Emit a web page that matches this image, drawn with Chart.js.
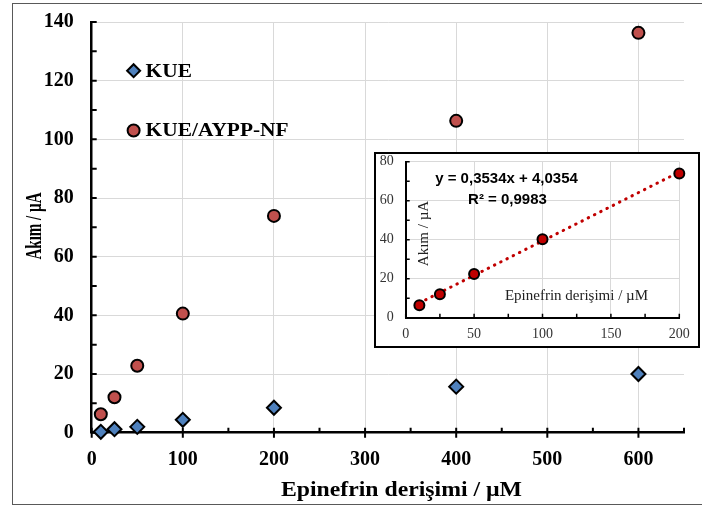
<!DOCTYPE html>
<html>
<head>
<meta charset="utf-8">
<script src="https://cdn.jsdelivr.net/npm/chart.js@4.4.0/dist/chart.umd.min.js"></script>
<style>
html, body { margin: 0; padding: 0; overflow: hidden; background: #fff; }
#frame { position: absolute; left: 12px; top: 3px; width: 700px; height: 500px; border: 1.5px solid #595959; }
#main { position: absolute; left: 0; top: 0; }
#insetBox { position: absolute; left: 374px; top: 152px; width: 322px; height: 192px; border: 2px solid #000; background: #fff; }
#inset { position: absolute; left: 0; top: 0; }
</style>
</head>
<body>
<div id="frame"></div>
<canvas id="main" width="702" height="508"></canvas>
<div id="insetBox"><canvas id="inset" width="322" height="192"></canvas></div>
<script>
// ===== Data =====
const concMain = [10, 25, 50, 100, 200, 400, 600];           // µM
const currentKUE = [0.3, 1.2, 2.0, 4.4, 8.5, 15.7, 20.0];   // µA
const currentKUEAYPP = [6.3, 12.1, 22.8, 40.6, 73.9, 106.3, 136.3];

const concInset = [10, 25, 50, 100, 200];
const currentInset = [6.4, 12.0, 22.4, 40.2, 74.0];
const fitSlope = 0.3534;
const fitIntercept = 4.0354;

const mainXTicks = [0, 100, 200, 300, 400, 500, 600];
const mainYTicks = [0, 20, 40, 60, 80, 100, 120, 140];
const insetXTicks = [0, 50, 100, 150, 200];
const insetYTicks = [0, 20, 40, 60, 80];

const SERIF = "'Liberation Serif', 'Times New Roman', serif";
const SANS = "'Liberation Sans', Arial, sans-serif";

const toPoints = (xs, ys) => xs.map((x, i) => ({ x: x, y: ys[i] }));
const fixTicks = (vals) => (scale) => { scale.ticks = vals.map(v => ({ value: v })); };

// trendline end points from the fitted equation shown in the inset
const fitX = [concInset[0], concInset[concInset.length - 1]];
const fitY = fitX.map(x => fitSlope * x + fitIntercept);

// text squeezed/stretched to a given width (the original figure is not drawn at 1:1 aspect)
function fitText(ctx, text, x, y, width, rotate) {
    const w = ctx.measureText(text).width;
    ctx.save();
    ctx.translate(x, y);
    if (rotate) ctx.rotate(-Math.PI / 2);
    ctx.scale(width / w, 1);
    ctx.fillText(text, 0, 0);
    ctx.restore();
}

// ===== small tick marks along both axes (major + minor) =====
function tickMarksPlugin(cfg) {
    return {
        id: "tickMarks",
        beforeDatasetsDraw(chart) {
            const { ctx, scales: { x, y } } = chart;
            const x0 = x.getPixelForValue(x.min);
            const y0 = y.getPixelForValue(y.min);
            ctx.save();
            ctx.strokeStyle = "#000";
            ctx.lineWidth = cfg.width;
            ctx.beginPath();
            for (let v = x.min; v <= x.max + 0.001; v += cfg.xStep) {
                const px = x.getPixelForValue(v);
                const major = v % cfg.xMajor === 0 && v < x.max;
                ctx.moveTo(px, y0 - cfg.len);
                ctx.lineTo(px, major ? y0 + cfg.down : y0);
            }
            for (let v = y.min; v <= y.max + 0.001; v += cfg.yStep) {
                const py = y.getPixelForValue(v);
                ctx.moveTo(x0, py);
                ctx.lineTo(x0 + cfg.len, py);
            }
            ctx.stroke();
            ctx.restore();
        }
    };
}

// ===== axis titles + in-plot legend of the main chart =====
const mainDecor = {
    id: "mainDecor",
    afterDraw(chart) {
        const { ctx, scales: { x, y } } = chart;
        ctx.save();
        ctx.fillStyle = "#000";
        ctx.textAlign = "center";
        ctx.textBaseline = "alphabetic";
        ctx.font = "bold 21px " + SERIF;
        fitText(ctx, "Epinefrin derişimi / µM", 401.5, 496, 241, false);
        ctx.textBaseline = "middle";
        ctx.font = "bold 23px " + SERIF;
        fitText(ctx, "Akım / µA", 35, 226, 67, true);

        const items = [
            { label: "KUE", at: [46, 123.4], style: "diamond", color: "#4f81bd" },
            { label: "KUE/AYPP-NF", at: [46, 103], style: "circle", color: "#c0504d" }
        ];
        ctx.font = "bold 19px " + SERIF;
        const stretch = 143 / ctx.measureText("KUE/AYPP-NF").width;
        items.forEach(it => {
            const px = x.getPixelForValue(it.at[0]);
            const py = y.getPixelForValue(it.at[1]);
            ctx.beginPath();
            if (it.style === "diamond") {
                ctx.moveTo(px, py - 6.5); ctx.lineTo(px + 6.5, py);
                ctx.lineTo(px, py + 6.5); ctx.lineTo(px - 6.5, py);
                ctx.closePath();
            } else {
                ctx.arc(px, py, 6, 0, Math.PI * 2);
            }
            ctx.fillStyle = it.color;
            ctx.fill();
            ctx.lineWidth = 2;
            ctx.strokeStyle = "#000";
            ctx.stroke();
            ctx.fillStyle = "#000";
            ctx.textAlign = "left";
            ctx.textBaseline = "middle";
            ctx.save();
            ctx.translate(px + 12, py + 1);
            ctx.scale(stretch, 1);
            ctx.fillText(it.label, 0, 0);
            ctx.restore();
        });
        ctx.restore();
    }
};

// ===== texts inside the inset =====
const insetTexts = {
    id: "insetTexts",
    afterDatasetsDraw(chart) {
        const { ctx } = chart;
        ctx.save();
        ctx.fillStyle = "#000";
        ctx.textAlign = "center";
        ctx.textBaseline = "middle";
        ctx.font = "bold 15px " + SANS;
        ctx.fillText("y = 0,3534x + 4,0354", 130.5, 25);
        ctx.fillText("R² = 0,9983", 131.5, 45.5);
        ctx.font = "15px " + SERIF;
        ctx.fillStyle = "#222";
        ctx.fillText("Epinefrin derişimi / µM", 200.5, 142.5);
        ctx.translate(48, 79.5);
        ctx.rotate(-Math.PI / 2);
        ctx.fillText("Akım / µA", 0, 0);
        ctx.restore();
    }
};

// ===== Main chart =====
new Chart(document.getElementById("main"), {
    type: "scatter",
    data: {
        datasets: [
            {
                label: "KUE/AYPP-NF",
                data: toPoints(concMain, currentKUEAYPP),
                pointStyle: "circle",
                pointRadius: 6,
                backgroundColor: "#c0504d",
                borderColor: "#000",
                borderWidth: 2,
                clip: false
            },
            {
                label: "KUE",
                data: toPoints(concMain, currentKUE),
                pointStyle: "rectRot",
                pointRadius: 7,
                backgroundColor: "#4f81bd",
                borderColor: "#000",
                borderWidth: 2,
                clip: false
            }
        ]
    },
    options: {
        responsive: false,
        animation: false,
        layout: { padding: { left: 12, top: 22, right: 18, bottom: 5 } },
        plugins: { legend: { display: false }, tooltip: { enabled: false } },
        scales: {
            x: {
                type: "linear",
                min: 0,
                max: 650,
                afterBuildTicks: fixTicks(mainXTicks),
                afterFit: (s) => { s.height = 70.3; },
                grid: { color: "#d9d9d9", lineWidth: 1, drawTicks: false },
                border: { color: "#000", width: 2.5 },
                ticks: { color: "#000", padding: 15, font: { family: SERIF, size: 20, weight: "bold" } }
            },
            y: {
                type: "linear",
                min: 0,
                max: 140,
                afterBuildTicks: fixTicks(mainYTicks),
                afterFit: (s) => { s.width = 79.7; },
                grid: { color: "#d9d9d9", lineWidth: 1, drawTicks: true, tickLength: 15, tickColor: "rgba(0,0,0,0)" },
                border: { color: "#000", width: 2.5 },
                ticks: { color: "#000", padding: 3, font: { family: SERIF, size: 20, weight: "bold" } }
            }
        }
    },
    plugins: [tickMarksPlugin({ xStep: 50, xMajor: 100, yStep: 10, len: 5, down: 5, width: 2 }), mainDecor]
});

// ===== Inset: linear range with fitted line =====
new Chart(document.getElementById("inset"), {
    type: "scatter",
    data: {
        datasets: [
            {
                label: "KUE/AYPP-NF",
                data: toPoints(concInset, currentInset),
                pointRadius: 5,
                backgroundColor: "#c00000",
                borderColor: "#000",
                borderWidth: 2,
                clip: false
            },
            {
                label: "fit",
                data: toPoints(fitX, fitY),
                showLine: true,
                pointRadius: 0,
                borderColor: "#c00000",
                borderWidth: 3,
                borderDash: [0.5, 6.5],
                borderCapStyle: "round",
                clip: false
            }
        ]
    },
    options: {
        responsive: false,
        animation: false,
        layout: { padding: { left: 0, top: 7.7, right: 18.7, bottom: 0 } },
        plugins: { legend: { display: false }, tooltip: { enabled: false } },
        scales: {
            x: {
                type: "linear",
                min: 0,
                max: 200,
                afterBuildTicks: fixTicks(insetXTicks),
                afterFit: (s) => { s.height = 28.3; },
                grid: { color: "#d9d9d9", lineWidth: 1, drawTicks: false },
                border: { color: "#000", width: 2 },
                ticks: { color: "#333", padding: 8, font: { family: SERIF, size: 14 } }
            },
            y: {
                type: "linear",
                min: 0,
                max: 80,
                afterBuildTicks: fixTicks(insetYTicks),
                afterFit: (s) => { s.width = 29.7; },
                grid: { color: "#d9d9d9", lineWidth: 1, drawTicks: true, tickLength: 12, tickColor: "rgba(0,0,0,0)" },
                border: { color: "#000", width: 2 },
                ticks: { color: "#333", padding: 0, font: { family: SERIF, size: 14, lineHeight: 1 } }
            }
        }
    },
    plugins: [tickMarksPlugin({ xStep: 25, xMajor: 1000, yStep: 10, len: 4, down: 0, width: 1.5 }), insetTexts]
});
</script>
</body>
</html>
